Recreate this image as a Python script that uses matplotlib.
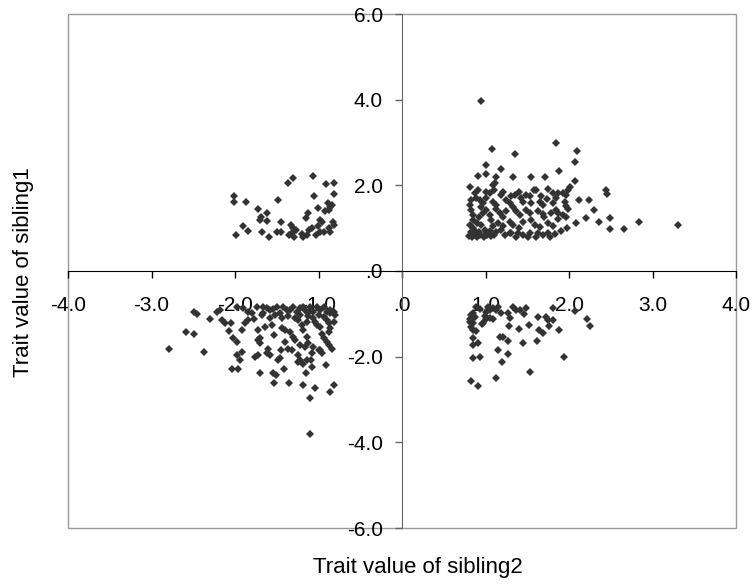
import matplotlib
matplotlib.use("Agg")
import matplotlib.pyplot as plt
from matplotlib.patches import Rectangle
from matplotlib.ticker import FuncFormatter, MultipleLocator

# sibling pairs split by quadrant (sibling2 on x, sibling1 on y)
q1_sib2 = [0.95, 1.08, 1.35, 1.85, 2.10, 2.07, 1.01, 1.18, 0.91, 1.01, 1.13, 1.11, 1.09, 1.33,
           1.54, 1.71, 1.88, 2.07, 2.01, 1.99, 0.81, 0.91, 2.12, 2.24, 2.30, 2.20, 2.36, 2.44,
           2.46, 2.49, 2.49, 2.66, 2.84, 3.30, 2.08, 1.98, 1.90, 1.83, 1.75, 1.69, 1.61, 1.53,
           1.45, 1.39, 1.31, 1.21, 1.87, 1.93, 1.97, 1.85, 1.97, 1.99, 1.85, 1.87, 1.93, 1.97,
           1.87, 1.01, 1.05, 1.21, 1.19, 1.31, 1.35, 1.61, 1.49, 1.53, 1.67, 1.74, 1.81, 0.87,
           0.89, 0.93, 0.97, 0.95, 1.09, 1.13, 1.29, 1.33, 1.43, 1.45, 1.55, 1.65, 1.69, 1.81,
           0.81, 0.83, 0.85, 1.01, 1.05, 1.07, 1.17, 1.21, 1.37, 1.41, 1.49, 1.53, 1.63, 1.69,
           1.79, 1.29, 1.33, 1.45, 1.59, 1.65, 1.75, 1.81, 0.81, 0.85, 0.89, 0.95, 0.99, 1.09,
           1.13, 1.19, 1.23, 1.29, 1.37, 1.51, 1.63, 1.77, 0.80, 0.84, 0.87, 0.90, 0.94, 0.98,
           1.02, 1.06, 1.10, 0.83, 0.92, 1.00, 1.05, 0.85, 0.92, 0.97, 1.12, 1.25, 0.90, 1.15,
           1.40, 1.25, 1.40, 1.70, 1.55, 1.95, 0.83, 1.00, 1.10, 1.58, 1.75]
q1_sib1 = [3.96, 2.84, 2.74, 3.00, 2.80, 2.54, 2.48, 2.37, 2.22, 2.26, 2.20, 2.06, 2.01, 2.19,
           2.19, 2.19, 2.34, 2.09, 1.95, 1.89, 1.95, 1.89, 1.66, 1.66, 1.43, 1.23, 1.14, 1.89,
           1.79, 1.23, 0.97, 0.97, 1.14, 1.07, 1.11, 1.00, 0.94, 0.86, 0.88, 0.84, 0.80, 0.88,
           0.84, 0.88, 0.88, 1.04, 1.82, 1.82, 1.78, 1.70, 1.52, 1.44, 1.43, 1.35, 1.31, 1.25,
           1.21, 1.85, 1.82, 1.85, 1.78, 1.74, 1.78, 1.89, 1.78, 1.74, 1.74, 1.68, 1.82, 1.82,
           1.70, 1.66, 1.58, 1.49, 1.62, 1.54, 1.58, 1.49, 1.70, 1.60, 1.58, 1.62, 1.54, 1.58,
           1.54, 1.43, 1.31, 1.43, 1.31, 1.19, 1.35, 1.27, 1.39, 1.31, 1.43, 1.35, 1.39, 1.33,
           1.35, 1.15, 1.07, 1.15, 1.07, 1.02, 1.11, 1.05, 1.07, 1.00, 0.92, 1.07, 0.96, 1.04,
           0.92, 0.96, 0.84, 0.88, 0.80, 0.80, 0.88, 0.80, 0.82, 0.80, 0.85, 0.80, 0.83, 0.80,
           0.84, 0.81, 0.85, 0.90, 0.90, 0.88, 0.93, 1.20, 1.25, 1.35, 1.45, 1.40, 1.12, 1.12,
           1.00, 1.65, 1.85, 1.25, 1.20, 1.62, 1.65, 1.70, 1.90, 1.90, 1.92]

q2_sib2 = [-2.01, -2.01, -1.87, -1.99, -1.91, -1.85, -1.73, -1.69, -1.70, -1.62, -1.62, -1.68,
           -1.59, -1.48, -1.45, -1.50, -1.45, -1.36, -1.30, -1.33, -1.30, -1.32, -1.29, -1.27,
           -1.18, -1.14, -1.13, -1.15, -1.11, -1.08, -1.06, -1.05, -1.01, -0.98, -0.96, -0.94,
           -0.98, -0.91, -0.82, -0.81, -0.89, -0.86, -0.88, -0.92, -0.83, -0.82, -0.86, -0.88,
           -1.01, -1.03, -0.84, -1.35, -1.20]
q2_sib1 = [1.75, 1.61, 1.62, 0.85, 1.04, 0.94, 1.44, 1.27, 1.19, 1.35, 1.17, 0.90,
           0.80, 1.66, 1.15, 0.92, 0.92, 2.06, 2.17, 1.07, 1.00, 0.88, 0.80, 0.95,
           0.80, 0.84, 1.35, 1.23, 0.96, 1.00, 2.22, 1.74, 1.46, 1.19, 1.15, 0.92,
           0.92, 2.03, 2.05, 1.80, 1.58, 1.50, 1.42, 1.39, 1.15, 1.07, 0.92, 1.00,
           1.05, 0.85, 1.55, 0.84, 0.86]

q3_sib2 = [-2.79, -2.59, -2.49, -2.37, -2.49, -2.45, -2.30, -2.22, -2.18, -2.16, -2.12, -2.07,
           -2.05, -2.02, -1.98, -1.98, -1.94, -1.92, -2.03, -1.97, -1.92, -1.88, -1.84, -1.98,
           -1.90, -1.84, -1.77, -1.72, -1.70, -1.72, -1.76, -1.72, -1.70, -1.66, -1.66, -1.68,
           -1.62, -1.58, -1.60, -1.58, -1.58, -1.54, -1.51, -1.53, -1.53, -1.48, -1.46, -1.45,
           -1.44, -1.40, -1.50, -1.46, -1.44, -1.41, -1.35, -1.36, -1.32, -1.34, -1.30, -1.28,
           -1.30, -1.26, -1.34, -1.24, -1.22, -1.24, -1.24, -1.22, -1.20, -1.18, -1.18, -1.14,
           -1.18, -1.15, -1.18, -1.16, -1.12, -1.10, -1.14, -1.12, -1.09, -1.08, -1.10, -1.10,
           -1.04, -1.06, -1.04, -1.02, -1.06, -1.00, -1.02, -0.98, -0.96, -0.94, -0.98, -0.96,
           -0.91, -0.94, -0.90, -0.88, -0.86, -0.88, -0.90, -0.88, -0.84, -0.86, -0.82, -0.86,
           -0.82, -0.80, -0.86, -0.82, -1.22, -1.16, -1.08, -1.70, -1.74, -1.62, -1.54, -1.42,
           -1.38, -1.22, -1.06, -0.94, -0.90, -1.80, -1.52, -1.36, -1.28, -1.14, -0.98, -1.56,
           -1.64, -1.00, -1.12, -1.40]
q3_sib1 = [-1.83, -1.43, -1.47, -1.90, -0.95, -1.00, -1.12, -0.95, -0.91, -1.15, -1.22, -1.40,
           -1.22, -1.57, -1.65, -1.96, -2.08, -1.90, -2.29, -2.29, -1.38, -1.22, -1.14, -0.83,
           -0.87, -0.95, -1.12, -1.38, -1.57, -1.61, -2.00, -1.96, -2.39, -0.83, -0.99, -1.03,
           -1.92, -1.96, -1.81, -0.91, -1.10, -2.39, -2.43, -2.62, -1.50, -2.08, -2.04, -1.85,
           -1.34, -1.38, -0.83, -0.99, -1.10, -2.29, -2.62, -1.81, -1.85, -1.42, -1.53, -1.61,
           -0.83, -0.95, -0.91, -1.96, -2.08, -2.12, -1.14, -1.03, -1.26, -1.38, -2.16, -2.08,
           -2.66, -2.37, -0.83, -0.91, -0.99, -0.83, -1.53, -1.69, -2.08, -2.23, -2.97, -3.80,
           -2.74, -1.10, -1.18, -1.26, -1.77, -1.85, -0.83, -0.91, -1.46, -1.57, -1.85, -1.92,
           -2.20, -1.07, -1.14, -1.22, -1.34, -1.42, -1.65, -1.73, -1.83, -2.82, -2.66, -0.91,
           -0.95, -1.03, -0.99, -1.18, -1.73, -1.78, -1.92, -1.69, -0.85, -0.87, -0.88, -0.85,
           -0.92, -0.87, -0.95, -0.85, -0.96, -0.98, -1.02, -1.05, -1.10, -1.20, -1.30, -1.25,
           -1.30, -1.02, -1.06, -1.65]

q4_sib2 = [0.83, 0.91, 0.85, 0.93, 0.85, 0.91, 0.85, 0.89, 0.83, 0.85, 0.85, 0.81, 0.85,
           0.83, 0.85, 0.89, 0.87, 0.97, 1.01, 1.05, 1.09, 1.01, 1.05, 1.03, 1.09, 1.15,
           1.19, 1.27, 1.29, 1.28, 1.33, 1.37, 1.41, 1.48, 1.46, 1.40, 1.52, 1.17, 1.21,
           1.27, 1.45, 1.15, 1.27, 1.20, 1.13, 1.53, 1.63, 1.64, 1.69, 1.62, 1.72, 1.75,
           1.76, 1.81, 1.81, 1.88, 1.94, 2.07, 2.22, 2.25, 0.96, 0.93, 1.12, 0.99, 0.82]
q4_sib1 = [-2.56, -2.69, -2.04, -2.00, -1.73, -1.67, -1.57, -1.39, -1.30, -1.38, -1.22, -1.18,
           -1.10, -1.03, -0.99, -0.83, -1.07, -1.22, -1.13, -1.10, -1.13, -0.95, -0.91, -0.83,
           -0.87, -0.83, -0.99, -0.99, -1.10, -1.28, -0.83, -0.91, -0.91, -0.86, -1.01, -1.35,
           -1.25, -1.55, -1.55, -1.64, -1.67, -1.85, -1.94, -2.13, -2.49, -2.36, -1.08, -1.38,
           -1.44, -1.64, -1.08, -1.15, -1.28, -1.15, -0.86, -1.38, -2.00, -0.93, -1.12, -1.28,
           -1.24, -0.88, -0.92, -1.04, -1.12]

x_ticks = [-4, -3, -2, -1, 0, 1, 2, 3, 4]
y_ticks = [-6, -4, -2, 0, 2, 4, 6]


def excel_fmt(v, pos=None):
    s = f"{v:.1f}"
    return s[1:] if s.startswith("0") else s


plt.rcParams["font.family"] = ["Liberation Sans", "DejaVu Sans"]

fig = plt.figure(figsize=(7.54, 5.85), dpi=100)
ax = fig.add_axes([68 / 754, 57 / 585, 668 / 754, 514 / 585])

marker_style = dict(linestyle="none", marker="D", markersize=3.8,
                    color="#333333", markeredgewidth=0)
for xs, ys in [(q1_sib2, q1_sib1), (q2_sib2, q2_sib1),
               (q3_sib2, q3_sib1), (q4_sib2, q4_sib1)]:
    ax.plot(xs, ys, **marker_style)

ax.set_xlim(-4, 4)
ax.set_ylim(-6, 6)

# axes cross at the origin, plot area framed in grey
ax.spines["left"].set_position("zero")
ax.spines["bottom"].set_position("zero")
ax.spines["left"].set_color("#666666")
ax.spines["bottom"].set_color("black")
ax.spines["top"].set_visible(False)
ax.spines["right"].set_visible(False)
ax.add_patch(Rectangle((0, 0), 1, 1, transform=ax.transAxes, fill=False,
                       edgecolor="#999999", linewidth=1.0, clip_on=False, zorder=0))

ax.set_xticks(x_ticks)
ax.set_yticks(y_ticks)
ax.xaxis.set_major_formatter(FuncFormatter(excel_fmt))
ax.yaxis.set_major_formatter(FuncFormatter(excel_fmt))
ax.tick_params(axis="x", direction="out", length=4.8, width=1, color="black",
               labelsize=15, pad=13.5)
ax.tick_params(axis="y", direction="out", length=4.8, width=1, color="#666666",
               labelsize=15, pad=9)

fig.text(418 / 754, 1 - 567 / 585, "Trait value of sibling2", fontsize=16,
         ha="center", va="center")
fig.text(24 / 754, 1 - 272 / 585, "Trait value of sibling1", fontsize=16,
         ha="center", va="center", rotation=90)

fig.savefig("out.png", dpi=100)
